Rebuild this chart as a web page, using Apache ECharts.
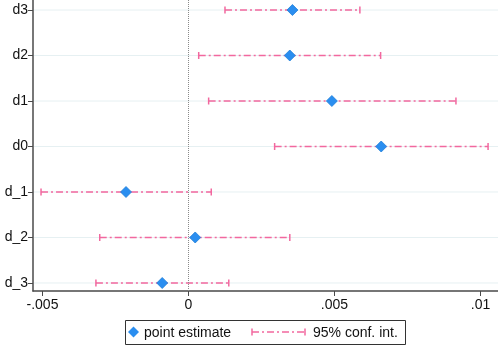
<!DOCTYPE html>
<html>
<head>
<meta charset="utf-8">
<script src="https://cdn.jsdelivr.net/npm/echarts@6/dist/echarts.min.js"></script>
<style>
  html, body { margin: 0; padding: 0; background: #fff; }
  #chart { width: 498px; height: 346px; }
</style>
</head>
<body>
<div id="chart"></div>
<script>
// rows from bottom to top
const categories = ['d_3', 'd_2', 'd_1', 'd0', 'd1', 'd2', 'd3'];
const estimates = [-0.0009, 0.00023, -0.00214, 0.0066, 0.00491, 0.00347, 0.00356];
const ciLow = [-0.00317, -0.00304, -0.00505, 0.00295, 0.00069, 0.00035, 0.00125];
const ciHigh = [0.00138, 0.00347, 0.00078, 0.01026, 0.00916, 0.00658, 0.00587];
const xTicks = [-0.005, 0, 0.005, 0.01];

const pink = '#f2689f';
const blue = '#2a8ef0';
const axisColor = '#4a4a4a';

let myChart = echarts.init(document.getElementById('chart'));

const stataFmt = v => {
  if (v === 0) return '0';
  let s = String(+v.toFixed(4));
  return s.replace(/^(-?)0\./, '$1.');
};

const ciData = categories.map((c, i) => [ciLow[i], ciHigh[i], i]);
const ptData = categories.map((c, i) => [estimates[i], i]);

let option = {
  animation: false,
  grid: { left: 33, right: 0, top: 0, bottom: 55 },
  xAxis: {
    type: 'value',
    min: -0.005325,
    max: 0.0106,
    axisLine: { show: true, onZero: false, lineStyle: { color: axisColor, width: 1.5 } },
    axisTick: { show: true, customValues: xTicks, length: 5, lineStyle: { color: axisColor, width: 1 } },
    axisLabel: {
      customValues: xTicks, formatter: stataFmt, color: '#111',
      fontFamily: 'Liberation Sans', fontSize: 14, margin: 7
    },
    splitLine: { show: false }
  },
  yAxis: {
    type: 'value',
    min: -0.176,
    max: 6.22,
    axisLine: { show: true, onZero: false, lineStyle: { color: axisColor, width: 1.5 } },
    axisTick: { show: true, customValues: [0, 1, 2, 3, 4, 5, 6], length: 5, lineStyle: { color: axisColor, width: 1 } },
    axisLabel: {
      customValues: [0, 1, 2, 3, 4, 5, 6],
      formatter: v => categories[Math.round(v)],
      color: '#111', fontFamily: 'Liberation Sans', fontSize: 14, margin: 5
    },
    splitLine: { show: false }
  },
  series: [
    {
      // light row gridlines
      type: 'custom',
      silent: true,
      z: 1,
      data: categories.map((c, i) => [i]),
      renderItem: (params, api) => {
        const cs = params.coordSys;
        const y = api.coord([0, api.value(0)])[1];
        return {
          type: 'line',
          shape: { x1: cs.x + 1, y1: y, x2: cs.x + cs.width, y2: y },
          style: { stroke: '#e6f0f2', lineWidth: 1 }
        };
      }
    },
    {
      name: '95% conf. int.',
      type: 'custom',
      z: 3,
      data: ciData,
      encode: { x: [0, 1], y: 2 },
      renderItem: (params, api) => {
        const a = api.coord([api.value(0), api.value(2)]);
        const b = api.coord([api.value(1), api.value(2)]);
        const st = { stroke: pink, lineWidth: 1.5 };
        return {
          type: 'group',
          children: [
            { type: 'line', shape: { x1: a[0], y1: a[1], x2: b[0], y2: b[1] },
              style: { stroke: pink, lineWidth: 1.5, lineDash: [7, 3, 2, 3] } },
            { type: 'line', shape: { x1: a[0], y1: a[1] - 3.5, x2: a[0], y2: a[1] + 3.5 }, style: st },
            { type: 'line', shape: { x1: b[0], y1: b[1] - 3.5, x2: b[0], y2: b[1] + 3.5 }, style: st }
          ]
        };
      }
    },
    {
      name: 'point estimate',
      type: 'scatter',
      z: 4,
      symbol: 'diamond',
      symbolSize: 11,
      itemStyle: { color: blue, borderColor: '#1f7fd8', borderWidth: 0.8, opacity: 1 },
      data: ptData,
      markLine: {
        silent: true,
        symbol: 'none',
        label: { show: false },
        lineStyle: { color: '#8a8a8a', type: 'dotted', width: 1 },
        data: [{ xAxis: 0 }]
      }
    }
  ],
  graphic: [
    { type: 'rect', shape: { x: 125.5, y: 320.5, width: 280, height: 24 },
      style: { fill: '#fff', stroke: '#333', lineWidth: 1 } },
    { type: 'polygon', shape: { points: [[133.5, 326.5], [139, 332], [133.5, 337.5], [128, 332]] },
      style: { fill: blue } },
    { type: 'text', x: 144, y: 333,
      style: { text: 'point estimate', fill: '#111', font: '14px "Liberation Sans"', verticalAlign: 'middle' } },
    { type: 'line', shape: { x1: 252, y1: 332, x2: 305, y2: 332 },
      style: { stroke: pink, lineWidth: 1.5, lineDash: [7, 3, 2, 3] } },
    { type: 'line', shape: { x1: 252, y1: 328.5, x2: 252, y2: 335.5 }, style: { stroke: pink, lineWidth: 1.5 } },
    { type: 'line', shape: { x1: 305, y1: 328.5, x2: 305, y2: 335.5 }, style: { stroke: pink, lineWidth: 1.5 } },
    { type: 'text', x: 313, y: 333,
      style: { text: '95% conf. int.', fill: '#111', font: '14px "Liberation Sans"', verticalAlign: 'middle' } }
  ]
};

myChart.setOption(option);
</script>
</body>
</html>
